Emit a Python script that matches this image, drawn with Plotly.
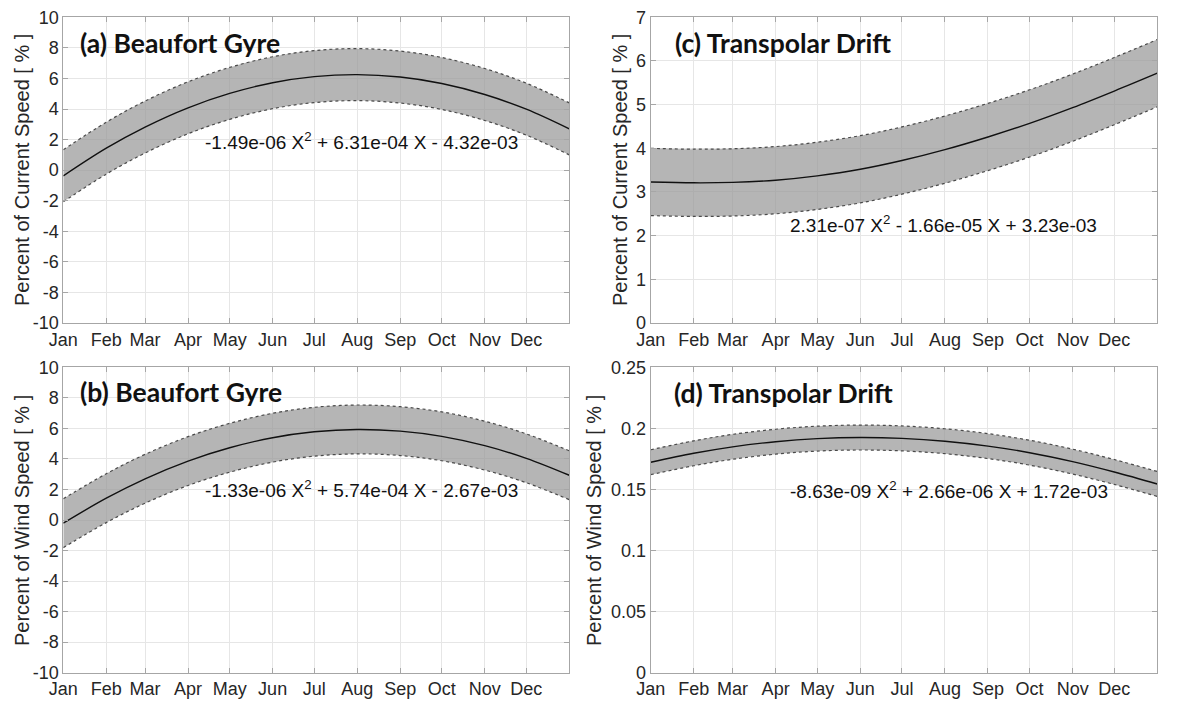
import plotly.graph_objects as go

# ---------------- data ----------------
days = [1, 32, 60, 91, 121, 152, 182, 213, 244, 274, 305, 335, 366]
month_days = [1, 32, 60, 91, 121, 152, 182, 213, 244, 274, 305, 335]
month_labels = ["Jan", "Feb", "Mar", "Apr", "May", "Jun", "Jul", "Aug", "Sep", "Oct", "Nov", "Dec"]

ab_ticks = [-10, -8, -6, -4, -2, 0, 2, 4, 6, 8, 10]
ab_ticklabels = ["-10", "-8", "-6", "-4", "-2", "0", "2", "4", "6", "8", "10"]
c_ticks = [0, 1, 2, 3, 4, 5, 6, 7]
d_ticks = [0, 0.05, 0.1, 0.15, 0.2, 0.25]

a_center = [-0.37, 1.44, 2.82, 4.08, 5.02, 5.72, 6.12, 6.25, 6.09, 5.67, 4.95, 3.99, 2.70]
a_upper = [1.33, 3.14, 4.52, 5.78, 6.72, 7.42, 7.82, 7.95, 7.79, 7.37, 6.65, 5.69, 4.40]
a_lower = [-2.07, -0.26, 1.12, 2.38, 3.32, 4.02, 4.42, 4.55, 4.39, 3.97, 3.25, 2.29, 1.00]

b_center = [-0.21, 1.43, 2.70, 3.86, 4.73, 5.39, 5.78, 5.93, 5.82, 5.48, 4.87, 4.04, 2.93]
b_upper = [1.39, 3.03, 4.30, 5.46, 6.33, 6.99, 7.38, 7.53, 7.42, 7.08, 6.47, 5.64, 4.53]
b_lower = [-1.81, -0.17, 1.10, 2.26, 3.13, 3.79, 4.18, 4.33, 4.22, 3.88, 3.27, 2.44, 1.33]

c_center = [3.23, 3.21, 3.22, 3.27, 3.37, 3.52, 3.72, 3.97, 4.26, 4.57, 4.93, 5.31, 5.72]
c_upper = [4.00, 3.98, 3.99, 4.04, 4.14, 4.29, 4.49, 4.74, 5.03, 5.34, 5.70, 6.08, 6.49]
c_lower = [2.46, 2.44, 2.45, 2.50, 2.60, 2.75, 2.95, 3.20, 3.49, 3.80, 4.16, 4.54, 4.95]

d_center = [0.1723, 0.1796, 0.1849, 0.1891, 0.1916, 0.1925, 0.1918, 0.1895, 0.1855, 0.1801, 0.1728, 0.1643, 0.1545]
d_upper = [0.1825, 0.1898, 0.1951, 0.1993, 0.2018, 0.2027, 0.2020, 0.1997, 0.1957, 0.1903, 0.1830, 0.1745, 0.1647]
d_lower = [0.1621, 0.1694, 0.1747, 0.1789, 0.1814, 0.1823, 0.1816, 0.1793, 0.1753, 0.1699, 0.1626, 0.1541, 0.1443]

panel_titles = ["(a) Beaufort Gyre", "(b) Beaufort Gyre", "(c) Transpolar Drift", "(d) Transpolar Drift"]
equations = [
    "-1.49e-06 X<sup>2</sup> + 6.31e-04 X - 4.32e-03",
    "-1.33e-06 X<sup>2</sup> + 5.74e-04 X - 2.67e-03",
    "2.31e-07 X<sup>2</sup> - 1.66e-05 X + 3.23e-03",
    "-8.63e-09 X<sup>2</sup> + 2.66e-06 X + 1.72e-03",
]
y_titles = [
    "Percent of Current Speed [ % ]",
    "Percent of Wind Speed [ % ]",
    "Percent of Current Speed [ % ]",
    "Percent of Wind Speed [ % ]",
]

# ---------------- figure ----------------
W, H = 1178, 714
fig = go.Figure()

panels = [
    ("", a_center, a_upper, a_lower),
    ("2", b_center, b_upper, b_lower),
    ("3", c_center, c_upper, c_lower),
    ("4", d_center, d_upper, d_lower),
]

fill_col = "rgba(150,150,150,0.70)"
edge = dict(color="#4a4a4a", width=1.2, dash="dot", shape="spline")

for suf, cen, up, lo in panels:
    xa, ya = "x" + suf, "y" + suf
    fig.add_trace(go.Scatter(x=days, y=lo, mode="lines", line=edge,
                             xaxis=xa, yaxis=ya, showlegend=False, hoverinfo="skip"))
    fig.add_trace(go.Scatter(x=days, y=up, mode="lines", line=edge, fill="tonexty",
                             fillcolor=fill_col, xaxis=xa, yaxis=ya, showlegend=False,
                             hoverinfo="skip"))
    fig.add_trace(go.Scatter(x=days, y=cen, mode="lines",
                             line=dict(color="#111111", width=1.4, shape="spline"),
                             xaxis=xa, yaxis=ya, showlegend=False))

def px_x(p):
    return p / W

def px_y(p):
    return 1 - p / H

xdom_left = [px_x(63.3), px_x(569.3)]
xdom_right = [px_x(650.7), px_x(1157.3)]
ydom_top = [px_y(323.0), px_y(17.3)]
ydom_bot = [px_y(672.7), px_y(367.3)]

tickfont = dict(family="Liberation Sans, Arial, sans-serif", size=18, color="#262626")
common_x = dict(
    range=[1, 366], tickmode="array", tickvals=month_days, ticktext=month_labels,
    showgrid=True, gridcolor="#e6e6e6", gridwidth=1, zeroline=False,
    showline=True, linecolor="#a6a6a6", linewidth=1, mirror="ticks",
    ticks="inside", ticklen=5, tickcolor="#a6a6a6", tickfont=tickfont,
    automargin=False,
)
common_y = dict(
    showgrid=True, gridcolor="#e6e6e6", gridwidth=1, zeroline=False,
    showline=True, linecolor="#a6a6a6", linewidth=1, mirror="ticks",
    ticks="inside", ticklen=5, tickcolor="#a6a6a6", tickfont=tickfont,
    automargin=False, tickmode="array",
)

fig.update_layout(
    width=W, height=H, autosize=False,
    margin=dict(l=0, r=0, t=0, b=0, autoexpand=False),
    paper_bgcolor="white", plot_bgcolor="white",
    showlegend=False,
    xaxis=dict(common_x, domain=xdom_left, anchor="y"),
    yaxis=dict(common_y, domain=ydom_top, anchor="x", range=[-10, 10],
               tickvals=ab_ticks, ticktext=ab_ticklabels),
    xaxis2=dict(common_x, domain=xdom_left, anchor="y2"),
    yaxis2=dict(common_y, domain=ydom_bot, anchor="x2", range=[-10, 10],
                tickvals=ab_ticks, ticktext=ab_ticklabels),
    xaxis3=dict(common_x, domain=xdom_right, anchor="y3"),
    yaxis3=dict(common_y, domain=ydom_top, anchor="x3", range=[0, 7],
                tickvals=c_ticks, ticktext=[str(v) for v in c_ticks]),
    xaxis4=dict(common_x, domain=xdom_right, anchor="y4"),
    yaxis4=dict(common_y, domain=ydom_bot, anchor="x4", range=[0, 0.25],
                tickvals=d_ticks, ticktext=[f"{v:g}" for v in d_ticks]),
)

title_font = dict(family="Lato, 'Open Sans', sans-serif", size=26.5, color="#111111")
eq_font = dict(family="Liberation Sans, Arial, sans-serif", size=19, color="#111111")
ytitle_font = dict(family="Liberation Sans, Arial, sans-serif", size=20, color="#262626")

title_pos = [(78, 43), (78, 392), (672.5, 43), (671.7, 393)]
eq_pos = [(203, 141), (203, 489), (788, 224), (788, 490)]
ytitle_pos = [(22, 170), (22, 521), (620, 170), (594, 521)]

for i in range(4):
    tx, ty = title_pos[i]
    fig.add_annotation(text="<b>" + panel_titles[i] + "</b>", x=px_x(tx), y=px_y(ty),
                       xref="paper", yref="paper", xanchor="left", yanchor="middle",
                       showarrow=False, font=title_font)
    ex, ey = eq_pos[i]
    fig.add_annotation(text=equations[i], x=px_x(ex), y=px_y(ey),
                       xref="paper", yref="paper", xanchor="left", yanchor="middle",
                       showarrow=False, font=eq_font)
    yx, yy = ytitle_pos[i]
    fig.add_annotation(text=y_titles[i], x=px_x(yx), y=px_y(yy),
                       xref="paper", yref="paper", xanchor="center", yanchor="middle",
                       textangle=-90, showarrow=False, font=ytitle_font)

fig.write_html("out.html",
               config={"displayModeBar": False},
               post_script="document.body.style.margin='0px';document.body.style.overflow='hidden';")
